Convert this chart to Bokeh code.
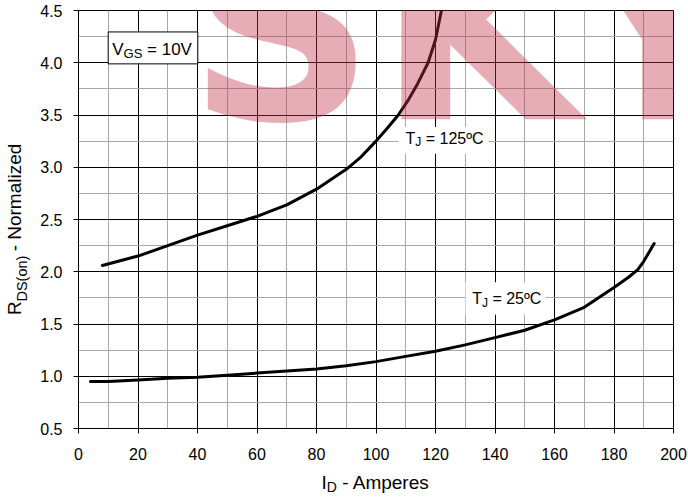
from bokeh.plotting import figure
from bokeh.models import (Range1d, SingleIntervalTicker, FixedTicker, LinearAxis,
                          NumeralTickFormatter, CustomJSTickFormatter)
from bokeh.core.properties import value
from bokeh.embed import file_html
from bokeh.resources import INLINE

# ---------------- data ----------------
id_25 = [4, 10, 20, 30, 40, 50, 60, 70, 80, 90, 100, 110, 120, 130, 140, 150, 160, 170, 180, 185, 188, 190, 193.5]
r_25 = [0.95, 0.95, 0.965, 0.98, 0.99, 1.01, 1.03, 1.05, 1.07, 1.10, 1.14, 1.19, 1.24, 1.30, 1.37, 1.44, 1.54, 1.66, 1.85, 1.95, 2.02, 2.10, 2.27]

id_125 = [8, 20, 30, 40, 50, 60, 70, 80, 90, 95, 100, 104, 107.5, 111, 114, 117.5, 120, 122]
r_125 = [2.06, 2.15, 2.25, 2.35, 2.44, 2.53, 2.64, 2.79, 2.98, 3.10, 3.25, 3.38, 3.50, 3.65, 3.80, 4.00, 4.22, 4.50]

x_range = (0, 200)
y_range = (0.5, 4.5)
x_tick_step = 20
y_tick_step = 0.5

# ---------------- layout ----------------
FONT = "Liberation Sans"
W, H = 688, 497
BL, BR, BT, BB = 78, 15, 10, 64
FW, FH = W - BL - BR, H - BT - BB
SX = FW / (x_range[1] - x_range[0])
SY = FH / (y_range[1] - y_range[0])
BASE_K = 0.35   # text glyphs are drawn this fraction of their size below the anchor


def dx(px):          # page px -> data x
    return x_range[0] + (px - BL) / SX


def dy(py):          # page py -> data y
    return y_range[0] + (BT + FH - py) / SY


p = figure(width=W, height=H, output_backend="svg", toolbar_location=None,
           x_range=Range1d(*x_range), y_range=Range1d(*y_range),
           min_border_left=BL, min_border_right=BR, min_border_top=BT, min_border_bottom=BB)
p.background_fill_color = "white"
p.border_fill_color = "white"
p.outline_line_color = "black"
p.outline_line_width = 1

p.xaxis.ticker = SingleIntervalTicker(interval=x_tick_step, num_minor_ticks=2)
p.yaxis.ticker = SingleIntervalTicker(interval=y_tick_step, num_minor_ticks=2)
p.xgrid.ticker = p.xaxis.ticker
p.ygrid.ticker = p.yaxis.ticker
p.yaxis.formatter = NumeralTickFormatter(format="0.0")

for ax in (p.xaxis, p.yaxis):
    ax.axis_line_color = "black"
    ax.axis_line_width = 1
    ax.major_tick_line_color = "black"
    ax.major_tick_out = 5
    ax.major_tick_in = 0
    ax.minor_tick_line_color = None
    ax.major_label_text_font = FONT
    ax.major_label_text_font_size = "16px"
    ax.major_label_text_color = "black"
p.xaxis.major_label_standoff = 14
p.yaxis.major_label_standoff = 11

for g in (p.xgrid, p.ygrid):
    g.grid_line_color = "black"
    g.grid_line_width = 1
    g.minor_grid_line_color = "#a8a8a8"
    g.minor_grid_line_width = 1

p.line(id_25, r_25, line_width=3, line_color="black", line_join="round", line_cap="round")
p.line(id_125, r_125, line_width=3, line_color="black", line_join="round", line_cap="round")

# ---------------- text helpers ----------------
CW = {'T': 611, 'J': 500, ' ': 278, '=': 584, '1': 556, '2': 556, '5': 556, 'º': 365, 'C': 722,
      'V': 667, 'G': 778, 'S': 667, '0': 556, 'R': 722, 'D': 722, '(': 333, 'o': 556, 'n': 556,
      ')': 333, '-': 333, 'N': 722, 'r': 333, 'm': 833, 'a': 556, 'l': 222, 'i': 222, 'z': 500,
      'e': 556, 'd': 556, 'I': 278, 'A': 667, 'p': 556, 's': 500}


def tw(s, size):
    return sum(CW.get(c, 556) for c in s) / 1000 * size


def run_layout(pieces):
    """pieces: (text, size) -> list of (body, size, start_px, center_px) along the baseline"""
    out, pos = [], 0.0
    for txt, size in pieces:
        lead = len(txt) - len(txt.lstrip(' '))
        pos += tw(' ' * lead, size)
        body = txt.strip(' ')
        w = tw(body, size)
        out.append((body, size, pos, pos + w / 2))
        pos += w
    return out


def frame_text(px0, py_base, pieces, shifts):
    for (body, size, start, _), sh in zip(run_layout(pieces), shifts):
        p.text(x=[dx(px0 + start)], y=[dy(py_base + sh - BASE_K * size)], text=[body],
               text_font=value(FONT), text_font_size=value(f"{size}px"),
               text_color="black", text_baseline="alphabetic", text_align="left")


# label boxes (white backgrounds)
p.quad(left=[dx(107.7)], right=[dx(197.3)], top=[dy(31.7)], bottom=[dy(64)],
       fill_color="white", line_color="black", line_width=1)
p.quad(left=[dx(398)], right=[dx(488)], top=[dy(128)], bottom=[dy(155)],
       fill_color="white", line_color=None)
p.quad(left=[dx(465)], right=[dx(545)], top=[dy(285)], bottom=[dy(318)],
       fill_color="white", line_color=None)

frame_text(111.7, 55, [("V", 17), ("GS", 13), (" = 10V", 17)], [0, 3, 0])
frame_text(405, 144.7, [("T", 16), ("J", 12), (" = 125ºC", 16)], [0, 3, 0])
frame_text(471.7, 306.7, [("T", 16), ("J", 12), (" = 25ºC", 16)], [0, 3, 0])

# watermark
WM = 260
for letter, px in (("S", 187), ("K", 377), ("Y", 572)):
    p.text(x=[dx(px)], y=[dy(120 - BASE_K * WM)], text=[letter], text_font=value("DejaVu Sans"),
           text_font_style="bold", text_font_size=value(f"{WM}px"), text_color="#C3314A",
           text_alpha=0.4, text_baseline="alphabetic", text_align="left")


# ---------------- axis titles (label-only axes in the side panels) ----------------
def title_axis(side, pos, txt, size, standoff, vertical=False):
    ax = LinearAxis(ticker=FixedTicker(ticks=pos),
                    formatter=CustomJSTickFormatter(args=dict(pos=pos, txt=txt), code="""
                        for (let i = 0; i < pos.length; i++) {
                            if (Math.abs(pos[i] - tick) < 1e-6) return txt[i];
                        }
                        return '';"""))
    ax.axis_line_color = None
    ax.major_tick_line_color = None
    ax.minor_tick_line_color = None
    ax.major_tick_out = 0
    ax.major_tick_in = 0
    ax.minor_tick_out = 0
    ax.minor_tick_in = 0
    ax.major_label_standoff = standoff
    ax.major_label_text_font = FONT
    ax.major_label_text_font_size = f"{size}px"
    ax.major_label_text_color = "black"
    if vertical:
        ax.major_label_orientation = "vertical"
    p.add_layout(ax, side)


# x title: "I_D - Amperes"
xl = run_layout([("I", 19), ("D", 14), (" - Amperes", 19)])
title_axis("below", [dx(321 + xl[1][3])], [xl[1][0]], 14, 16)
title_axis("below", [dx(321 + xl[0][3]), dx(321 + xl[2][3])], [xl[0][0], xl[2][0]], 19, -26)

# y title: "R_DS(on) - Normalized", reading bottom to top
yl = run_layout([("R", 19), ("DS(on)", 14.5), (" - Normalized", 19)])
title_axis("left", [dy(318 - yl[1][3])], [yl[1][0]], 14.5, 7, vertical=True)
title_axis("left", [dy(318 - yl[0][3]), dy(318 - yl[2][3])], [yl[0][0], yl[2][0]], 19, -14, vertical=True)

open("out.html", "w").write(file_html(p, INLINE))
